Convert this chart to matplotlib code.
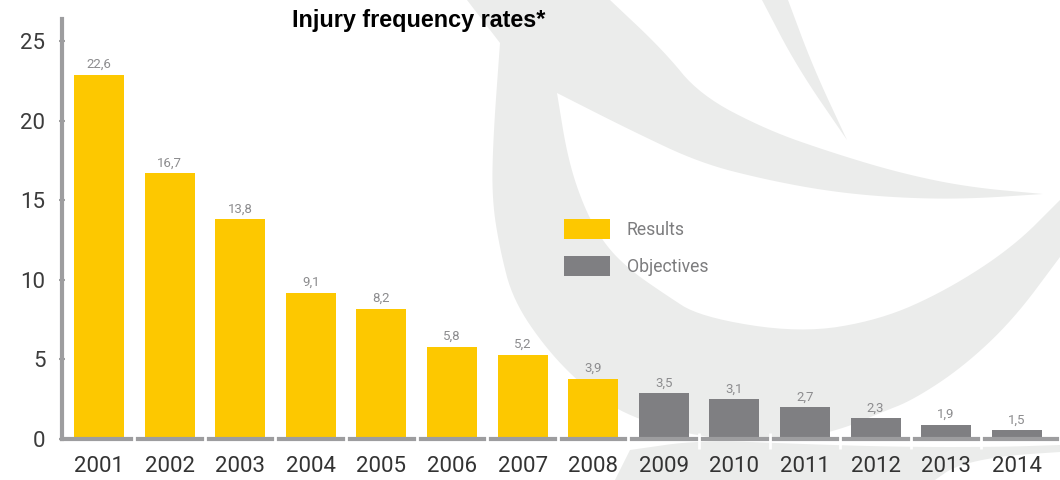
import matplotlib
matplotlib.use('Agg')
import matplotlib.pyplot as plt
from matplotlib.patches import Polygon, Patch

# data
years = ['2001', '2002', '2003', '2004', '2005', '2006', '2007',
         '2008', '2009', '2010', '2011', '2012', '2013', '2014']
results = [22.9, 16.7, 13.8, 9.2, 8.2, 5.8, 5.3, 3.8]
objectives = [2.9, 2.5, 2.0, 1.3, 0.9, 0.55]
value_labels = ['22,6', '16,7', '13,8', '9,1', '8,2', '5,8', '5,2',
                '3,9', '3,5', '3,1', '2,7', '2,3', '1,9', '1,5']
yticks = [0, 5, 10, 15, 20, 25]

YELLOW = '#fdc800'
GREY = '#7f7f82'
AXIS = '#9d9d9f'
BG = '#ebeceb'
light = ['Roboto', 'DejaVu Sans']


def smooth(pts, n=3):
    # chaikin corner cutting, ends kept
    for _ in range(n):
        out = [pts[0]]
        for (x0, y0), (x1, y1) in zip(pts[:-1], pts[1:]):
            out.append((0.75 * x0 + 0.25 * x1, 0.75 * y0 + 0.25 * y1))
            out.append((0.25 * x0 + 0.75 * x1, 0.25 * y0 + 0.75 * y1))
        out.append(pts[-1])
        pts = out
    return pts


fig = plt.figure(figsize=(10.6, 4.8), dpi=100)

# decorative watermark behind the chart (pixel coords)
bg = fig.add_axes([0, 0, 1, 1], zorder=-1)
bg.set_xlim(0, 1060)
bg.set_ylim(480, 0)
bg.axis('off')
outer = [(500, 43), (493, 140), (492, 200), (500, 250), (513, 300),
         (547, 350), (587, 390), (630, 417), (697, 437), (780, 443), (840, 430),
         (880, 413), (913, 400), (963, 367), (1013, 320), (1060, 257)]
inner = [(1060, 200), (1013, 247), (947, 290), (880, 320), (800, 333),
         (700, 317), (663, 293), (630, 270), (605, 245), (585, 210),
         (568, 160), (557, 93)]
wing_low = [(557, 93), (630, 130), (700, 163), (767, 180), (833, 192),
            (900, 198), (967, 199), (1043, 194)]
wing_up = [(1043, 194), (967, 187), (900, 173), (833, 153), (767, 130),
           (700, 95), (663, 50), (610, 0)]
crescent = [(467, 0)] + smooth(outer) + smooth(inner) + smooth(wing_low) + smooth(wing_up)
spike = smooth([(762, 0), (797, 67), (847, 140)]) + smooth([(847, 140), (813, 67), (788, 0)])
bottom = [(615, 480)] + smooth([(630, 450), (700, 440), (800, 444), (900, 447),
                                (1000, 447), (1060, 445)]) + \
    smooth([(1060, 452), (1000, 456), (955, 466), (935, 480)])
for pts in (crescent, spike, bottom):
    bg.add_patch(Polygon(pts, closed=True, facecolor=BG, edgecolor='none'))

ax = fig.add_axes([62 / 1060, 41 / 480, 995 / 1060, 420 / 480])
ax.patch.set_alpha(0)

n_res = len(results)
x_res = list(range(n_res))
x_obj = list(range(n_res, n_res + len(objectives)))
heights = results + objectives

ax.bar(x_res, results, width=0.71, color=YELLOW, zorder=2)
ax.bar(x_obj, objectives, width=0.71, color=GREY, zorder=2)

for i, (h, lab) in enumerate(zip(heights, value_labels)):
    ax.annotate(lab, (i, h), xytext=(0, 2.5), textcoords='offset points',
                ha='center', va='bottom', fontsize=9.5, color='#8c8c8e',
                family=light)

ax.set_xlim(-0.524, 13.57)
ax.set_ylim(0, 26.4)

for s in ['top', 'right']:
    ax.spines[s].set_visible(False)
ax.spines['left'].set_color(AXIS)
ax.spines['left'].set_linewidth(3)
ax.spines['bottom'].set_color(AXIS)
ax.spines['bottom'].set_linewidth(3)
ax.spines['bottom'].set_zorder(3)

# white gaps in the baseline between categories
ax.vlines([i + 0.5 for i in range(len(years) - 1)], -0.6, 0.4, colors='white',
          linewidth=2, zorder=4, clip_on=False)

ax.set_xticks(range(len(years)))
ax.set_xticklabels(years, family=light, fontsize=16, color='#333333')
ax.tick_params(axis='x', length=0, pad=12)
ax.set_yticks(yticks)
ax.set_yticklabels([str(t) for t in yticks], family=light, fontsize=16,
                   color='#3c3c3c')
ax.tick_params(axis='y', direction='inout', length=4, width=1.5, color=AXIS,
               pad=10)

handles = [Patch(facecolor=YELLOW), Patch(facecolor=GREY)]
ax.legend(handles, ['Results', 'Objectives'], loc='upper left',
          bbox_to_anchor=(564 / 1060, 1 - 219 / 480),
          bbox_transform=fig.transFigure, frameon=False, borderpad=0,
          handlelength=2.6, handleheight=1.36, handletextpad=0.95,
          labelspacing=0.98, borderaxespad=0,
          prop={'family': light, 'size': 12.7}, labelcolor='#7d7d7f')

fig.text(419 / 1060, 1 - 21 / 480, 'Injury frequency rates*', ha='center',
         va='center', fontsize=16.8, fontweight='bold', color='black',
         family=['Liberation Sans', 'DejaVu Sans'])

fig.savefig('out.png', dpi=100)
